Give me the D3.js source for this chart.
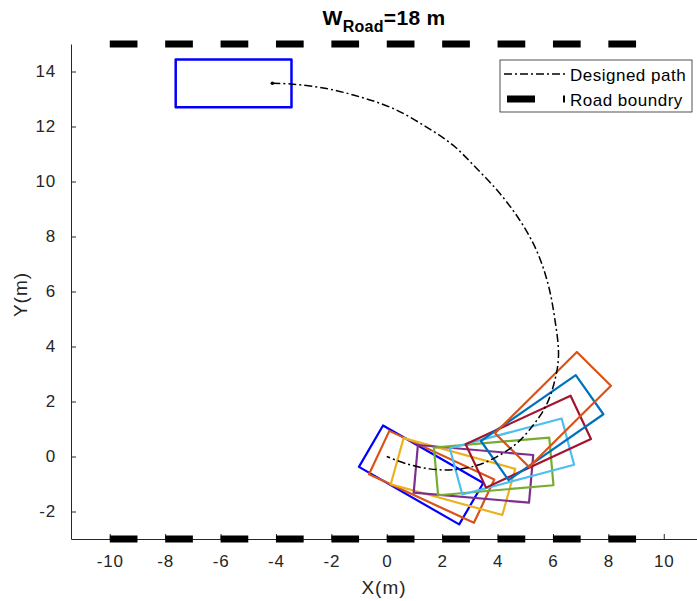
<!DOCTYPE html>
<html>
<head>
<meta charset="utf-8">
<script src="https://cdn.jsdelivr.net/npm/d3@7"></script>
<style>
  body { margin: 0; background: #fff; }
  svg { display: block; font-family: "Liberation Sans", Arial, sans-serif; }
</style>
</head>
<body>
<div id="chart"></div>
<script>
// designed path (metres)
const pathX = [-4.13, -3.39, -2.18, -0.98, 0.22, 1.42, 2.38, 3.23, 4.07, 4.79, 5.39, 5.81, 6.05, 6.20, 6.05, 5.75, 5.27, 4.67, 3.95, 3.23, 2.38, 1.54, 0.70, 0.0];
const pathY = [13.57, 13.54, 13.38, 13.08, 12.66, 11.99, 11.33, 10.49, 9.58, 8.61, 7.53, 6.32, 5.11, 3.66, 2.70, 1.85, 1.12, 0.46, -0.02, -0.33, -0.48, -0.45, -0.26, 0.0];

// vehicle footprints: centre, heading (deg), colour
const carCX = [-5.53, 1.24, 1.62, 2.39, 3.13, 3.86, 4.52, 5.11, 5.61, 6.0];
const carCY = [13.57, -0.67, -0.74, -0.73, -0.63, -0.36, 0.0, 0.54, 1.05, 1.71];
const carHeading = [0, -30, -25, -15.5, -5, 5, 15, 25, 35, 45];
const carColors = ['#0000ff', '#0000ff', '#d95319', '#edb120', '#7e2f8e', '#77ac30', '#4dbeee', '#a2142f', '#0072bd', '#d95319'];
const carLength = 4.18;
const carWidth = 1.74;

// road boundaries
const roadX = [-10, 9];
const roadY = [15, -3];

const xTicks = [-10, -8, -6, -4, -2, 0, 2, 4, 6, 8, 10];
const yTicks = [-2, 0, 2, 4, 6, 8, 10, 12, 14];

const W = 697, H = 601;
const margin = { top: 44, right: 0, bottom: 62, left: 71 };
const ink = '#262626';

const svg = d3.select('#chart').append('svg')
  .attr('width', W)
  .attr('height', H);

const x = d3.scaleLinear().domain([-11.4, 11.2]).range([margin.left, W - margin.right]);
const y = d3.scaleLinear().domain([-3, 15]).range([H - margin.bottom, margin.top]);

// axes (MATLAB style, ticks pointing inward, no box)
const xAxis = svg.append('g')
  .attr('transform', `translate(0,${y(-3)})`)
  .call(d3.axisBottom(x).tickValues(xTicks).tickFormat(d => String(d))
    .tickSizeInner(-5).tickSizeOuter(0).tickPadding(16));
const yAxis = svg.append('g')
  .attr('transform', `translate(${x(-11.4)},0)`)
  .call(d3.axisLeft(y).tickValues(yTicks).tickFormat(d => String(d))
    .tickSizeInner(-5).tickSizeOuter(0).tickPadding(15));

[xAxis, yAxis].forEach(g => {
  g.select('.domain').attr('stroke', ink).attr('stroke-width', 1);
  g.selectAll('.tick line').attr('stroke', ink);
  g.selectAll('.tick text').attr('fill', ink)
    .style('font-size', '17px')
    .style('letter-spacing', '0.8px');
});

// road boundary dashes (1 m dash / 1 m gap)
const dashPx = x(1) - x(0);
roadY.forEach(ry => {
  svg.append('line')
    .attr('x1', x(roadX[0])).attr('x2', x(roadX[1]))
    .attr('y1', y(ry)).attr('y2', y(ry))
    .attr('stroke', '#000')
    .attr('stroke-width', 7)
    .attr('stroke-dasharray', `${dashPx},${dashPx}`);
});

// vehicle rectangles
carCX.forEach((cx, i) => {
  const a = carHeading[i] * Math.PI / 180;
  const ux = Math.cos(a), uy = Math.sin(a);
  const vx = -Math.sin(a), vy = Math.cos(a);
  const hl = carLength / 2, hw = carWidth / 2;
  const corners = [[-hl, -hw], [hl, -hw], [hl, hw], [-hl, hw]].map(([p, q]) =>
    [x(cx + p * ux + q * vx), y(carCY[i] + p * uy + q * vy)]);
  svg.append('polygon')
    .attr('points', corners.map(c => c.join(',')).join(' '))
    .attr('fill', 'none')
    .attr('stroke', carColors[i])
    .attr('stroke-width', i === 0 ? 2.5 : 2.2)
    .attr('stroke-linejoin', 'round');
});

// designed path
const line = d3.line()
  .x((d, i) => x(pathX[i]))
  .y((d, i) => y(pathY[i]))
  .curve(d3.curveCatmullRom);

svg.append('path')
  .datum(pathX)
  .attr('d', line)
  .attr('fill', 'none')
  .attr('stroke', '#000')
  .attr('stroke-width', 1.5)
  .attr('stroke-dasharray', '8,3,2,3');

svg.append('circle')
  .attr('cx', x(pathX[0]))
  .attr('cy', y(pathY[0]))
  .attr('r', 1.8)
  .attr('fill', '#000');

// axis labels
svg.append('text')
  .attr('x', (x(-11.4) + x(11.2)) / 2)
  .attr('y', 594)
  .attr('text-anchor', 'middle')
  .attr('fill', ink)
  .style('font-size', '19px')
  .style('letter-spacing', '1px')
  .text('X(m)');

svg.append('text')
  .attr('transform', `translate(27,${(y(-3) + y(15)) / 2 + 3}) rotate(-90)`)
  .attr('text-anchor', 'middle')
  .attr('fill', ink)
  .style('font-size', '19px')
  .style('letter-spacing', '1px')
  .text('Y(m)');

// title
const title = svg.append('text')
  .attr('x', (x(-11.4) + x(11.2)) / 2)
  .attr('y', 25)
  .attr('text-anchor', 'middle')
  .attr('fill', '#000')
  .style('font-size', '21px')
  .style('font-weight', 'bold')
  .style('letter-spacing', '0.3px');
title.append('tspan').text('W');
title.append('tspan').attr('dy', 7).style('font-size', '16px').text('Road');
title.append('tspan').attr('dy', -7).text('=18 m');

// legend
const lg = svg.append('g').attr('transform', 'translate(500,60)');
lg.append('rect')
  .attr('width', 192).attr('height', 52)
  .attr('fill', '#fff')
  .attr('stroke', ink)
  .attr('stroke-width', 0.8);
lg.append('line')
  .attr('x1', 4).attr('x2', 66).attr('y1', 14).attr('y2', 14)
  .attr('stroke', '#000').attr('stroke-width', 1.5)
  .attr('stroke-dasharray', '8,3,2,3');
lg.append('line')
  .attr('x1', 7).attr('x2', 65).attr('y1', 39).attr('y2', 39)
  .attr('stroke', '#000').attr('stroke-width', 7)
  .attr('stroke-dasharray', '28,28');
lg.append('text').attr('x', 70).attr('y', 21)
  .attr('fill', '#000').style('font-size', '17px').style('letter-spacing', '0.5px')
  .text('Designed path');
lg.append('text').attr('x', 70).attr('y', 46)
  .attr('fill', '#000').style('font-size', '17px').style('letter-spacing', '0.5px')
  .text('Road boundry');
</script>
</body>
</html>
